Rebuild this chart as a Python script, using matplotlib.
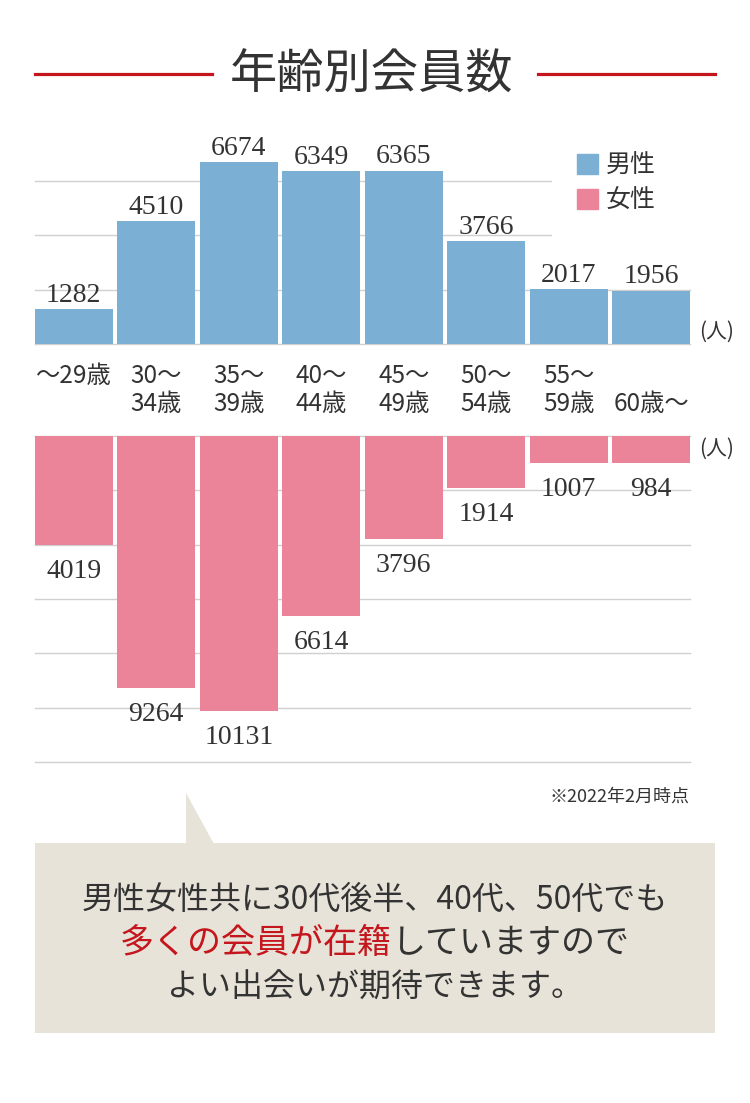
import matplotlib
matplotlib.use('Agg')
import matplotlib.pyplot as plt
import matplotlib.transforms as mtransforms
from matplotlib.patches import Rectangle, Polygon, Patch
from matplotlib.lines import Line2D

plt.rcParams['font.family'] = ['Noto Sans CJK JP', 'DejaVu Sans']

# データ
age_labels = ['〜29歳\n', '30〜\n34歳', '35〜\n39歳', '40〜\n44歳',
              '45〜\n49歳', '50〜\n54歳', '55〜\n59歳', '\n60歳〜']
male = [1282, 4510, 6674, 6349, 6365, 3766, 2017, 1956]
female = [4019, 9264, 10131, 6614, 3796, 1914, 1007, 984]
male_grid = [0, 2000, 4000, 6000]
female_grid = [0, 2000, 4000, 6000, 8000, 10000, 12000]

BLUE = '#7bafd4'
PINK = '#ec8499'
RED = '#c4161c'
DARK = '#333333'
GRID = '#d0d0d0'

W, H = 750, 1103
fig = plt.figure(figsize=(W / 100, H / 100), dpi=100)


def fx(x):
    return x / W


def fy(y):
    return 1 - y / H


x = list(range(len(male)))

# 男性（上）
ax_m = fig.add_axes([fx(35), fy(344), 655 / W, (344 - 126) / H])
ax_m.set_xlim(-0.47, 7.47)
ax_m.set_ylim(0, 8000)
for v in male_grid:
    ax_m.axhline(v, color=GRID, lw=1, zorder=0, clip_on=False)
ax_m.bar(x, male, width=0.94, color=BLUE, zorder=2)
for i, v in enumerate(male):
    ax_m.annotate(str(v), (i, v), xytext=(0, 1), textcoords='offset points',
                  ha='center', va='bottom', fontsize=20, color=DARK,
                  fontfamily='Liberation Serif')
ax_m.axis('off')

ax_m.legend([Patch(color=BLUE), Patch(color=PINK)], ['男性', '女性'],
            loc='upper left',
            bbox_to_anchor=(fx(552), fy(230), (700 - 552) / W, (230 - 128) / H),
            mode='expand',
            bbox_transform=fig.transFigure, fontsize=18, labelcolor=DARK,
            frameon=True, facecolor='white', edgecolor='none', framealpha=1,
            fancybox=False, handlelength=0.85, handleheight=0.85,
            handletextpad=0.3, labelspacing=0.35, borderpad=1.0,
            borderaxespad=0)

# 女性（下）
ax_f = fig.add_axes([fx(35), fy(762), 655 / W, 326 / H])
ax_f.set_xlim(-0.47, 7.47)
ax_f.set_ylim(12000, 0)
for v in female_grid:
    ax_f.axhline(v, color=GRID, lw=1, zorder=0, clip_on=False)
ax_f.bar(x, female, width=0.94, color=PINK, zorder=2)
for i, v in enumerate(female):
    ax_f.annotate(str(v), (i, v), xytext=(0, -10), textcoords='offset points',
                  ha='center', va='top', fontsize=20, color=DARK,
                  fontfamily='Liberation Serif')
ax_f.axis('off')

# 年齢ラベル
trans = mtransforms.blended_transform_factory(ax_m.transData, fig.transFigure)
for i, lab in enumerate(age_labels):
    row1, row2 = lab.split('\n')
    ax_m.text(i, fy(376), row1, transform=trans, ha='center', va='center',
              fontsize=17.5, color=DARK)
    ax_m.text(i, fy(404), row2, transform=trans, ha='center', va='center',
              fontsize=17.5, color=DARK)

fig.text(fx(699), fy(332), '(人)', fontsize=15, va='center', color=DARK)
fig.text(fx(699), fy(449), '(人)', fontsize=15, va='center', color=DARK)

# タイトル
fig.text(fx(372), fy(75), '年齢別会員数', fontsize=34, ha='center',
         va='center', color=DARK)
fig.add_artist(Line2D([fx(35), fx(212)], [fy(74), fy(74)], color=RED, lw=2.3))
fig.add_artist(Line2D([fx(538), fx(715)], [fy(74), fy(74)], color=RED, lw=2.3))

fig.text(fx(690), fy(797), '※2022年2月時点', ha='right', va='center',
         fontsize=13, color=DARK)

# 吹き出し
BOX = '#e7e3d9'
fig.add_artist(Rectangle((fx(35), fy(1033)), 680 / W, (1033 - 843) / H,
                         transform=fig.transFigure, color=BOX, lw=0,
                         zorder=-1))
fig.add_artist(Polygon([(fx(186), fy(793)), (fx(186), fy(844)),
                        (fx(214), fy(844))], closed=True,
                       transform=fig.transFigure, color=BOX, lw=0, zorder=-1))

fs = 23
fs2 = 24.5
fig.text(0.5, fy(909), '男性女性共に30代後半、40代、50代でも', ha='center',
         va='baseline', fontsize=fs, color=DARK)
shift = mtransforms.ScaledTranslation(0.5 * fs2 / 72, 0, fig.dpi_scale_trans)
fig.text(0.5, fy(953), '多くの会員が在籍', ha='right', va='baseline',
         fontsize=fs2, color=RED, transform=fig.transFigure + shift)
fig.text(0.5, fy(953), 'していますので', ha='left', va='baseline',
         fontsize=fs2, color=DARK, transform=fig.transFigure + shift)
fig.text(0.5, fy(997), 'よい出会いが期待できます。', ha='center',
         va='baseline', fontsize=fs, color=DARK)

fig.savefig('out.png', dpi=100)
